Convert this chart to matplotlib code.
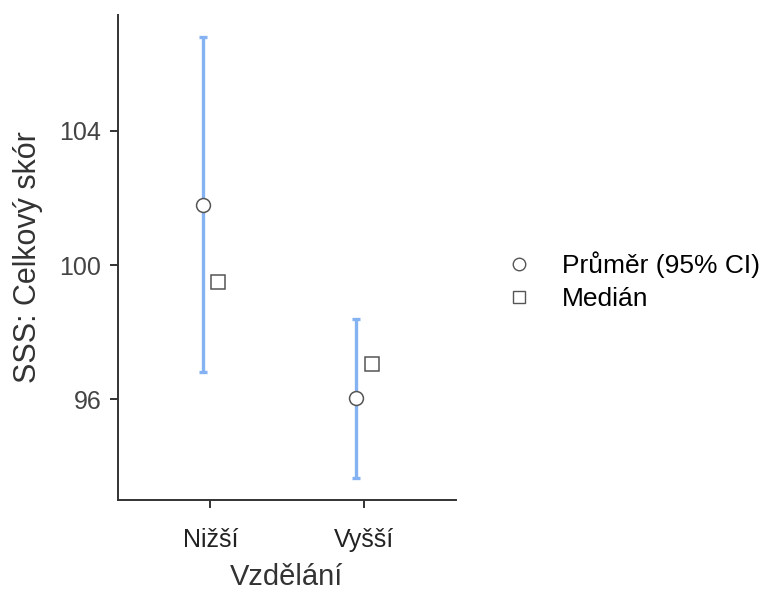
import matplotlib
matplotlib.use("Agg")
from matplotlib import pyplot as plt
from matplotlib.lines import Line2D

# Data
groups = ["Nižší", "Vyšší"]
means = [101.8, 96.05]
ci_low = [96.8, 93.65]
ci_high = [106.8, 98.4]
medians = [99.5, 97.05]

plt.rcParams["font.family"] = ["Liberation Sans", "DejaVu Sans"]

fig = plt.figure(figsize=(7.74, 5.92), dpi=100)
ax = fig.add_axes([0.1525, 0.1554, 0.4367, 0.8193])

pos = list(range(len(groups)))
dodge = 0.05
mean_x = [p - dodge for p in pos]
med_x = [p + dodge for p in pos]

err_low = [m - l for m, l in zip(means, ci_low)]
err_high = [h - m for m, h in zip(means, ci_high)]

ax.errorbar(mean_x, means, yerr=[err_low, err_high], fmt="none",
            ecolor="#85b2f2", elinewidth=2.4, capsize=3, capthick=2.4, zorder=2)
ax.plot(mean_x, means, "o", markersize=10, markerfacecolor="white",
        markeredgecolor="#555555", markeredgewidth=1.1, zorder=3)
ax.plot(med_x, medians, "s", markersize=9.5, markerfacecolor="white",
        markeredgecolor="#555555", markeredgewidth=1.1, zorder=3)

ax.set_xlim(-0.6, 1.6)
ax.set_ylim(93.0, 107.45)
ax.set_xticks(pos)
ax.set_xticklabels(groups)
ax.set_yticks([96, 100, 104])

for side in ["top", "right"]:
    ax.spines[side].set_visible(False)
for side in ["left", "bottom"]:
    ax.spines[side].set_color("#333333")
    ax.spines[side].set_linewidth(1.4)

ax.tick_params(axis="both", colors="#333333", width=1.4, length=6)
ax.tick_params(axis="x", labelsize=18, pad=14, labelcolor="#222222")
ax.tick_params(axis="y", labelsize=18, pad=6, labelcolor="#444444")
ax.set_xlabel("Vzdělání", fontsize=21, color="#333333", labelpad=8)
ax.set_ylabel("SSS: Celkový skór", fontsize=22, color="#333333", labelpad=12)

handles = [
    Line2D([], [], marker="o", linestyle="none", markersize=9,
           markerfacecolor="white", markeredgecolor="#555555", markeredgewidth=1.0),
    Line2D([], [], marker="s", linestyle="none", markersize=9,
           markerfacecolor="white", markeredgecolor="#555555", markeredgewidth=1.0),
]
fig.legend(handles, ["Průměr (95% CI)", "Medián"], loc="center left",
           bbox_to_anchor=(0.619, 0.525), frameon=False, fontsize=19,
           handletextpad=1.05, labelspacing=0.35, handlelength=1.2)

fig.savefig("out.png", dpi=100)
